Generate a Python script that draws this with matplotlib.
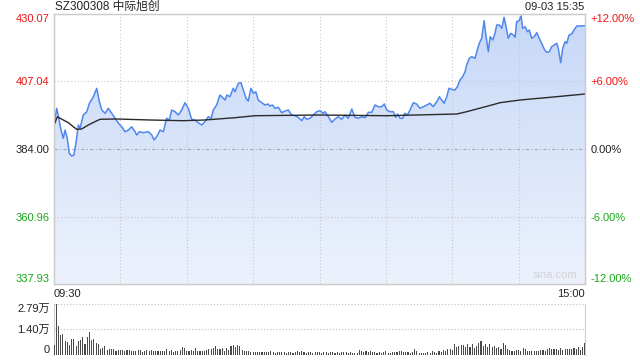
import matplotlib
matplotlib.use('Agg')
import matplotlib.pyplot as plt
import numpy as np

plt.rcParams['font.family'] = ['Liberation Sans', 'Noto Sans CJK SC', 'DejaVu Sans']

title = 'SZ300308 中际旭创'
stamp = '09-03 15:35'
prev_close = 384.00
price_ticks = [337.93, 360.96, 384.00, 407.04, 430.07]
pct_labels = ['-12.00%', '-6.00%', '0.00%', '+6.00%', '+12.00%']
vol_ticks = [0, 1.40, 2.79]
vol_labels = ['0', '1.40万', '2.79万']

# minutes after 09:30 (trading time, lunch break removed) and price
minutes = [0, 1.2, 1.9, 3.0, 4.2, 5.0, 6.0, 6.9, 8.0, 9.0, 9.9, 11.0, 11.8, 12.5, 13.2, 14.8,
           16.0, 17.8, 19.3, 20.5, 21.6, 23.1, 24.5, 26.1, 27.6, 29.1, 30.6, 32.1, 33.6, 35.1,
           36.6, 37.4, 38.6, 40.4, 42.6, 44.2, 45.2, 46.4, 47.9, 49.4, 50.9, 52.1, 53.2, 54.7,
           56.2, 57.7, 59.2, 60.7, 62.2, 63.7, 65.2, 66.8, 68.2, 69.7, 71.0, 72.0, 73.5, 75.0,
           76.5, 77.3, 78.1, 79.5, 81.0, 81.8, 83.3, 84.5, 85.6, 86.8, 87.8, 89.0, 90.1, 91.2,
           92.3, 93.9, 95.4, 96.6, 97.6, 98.7, 99.9, 101.4, 102.9, 104.4, 105.9, 107.4, 108.9,
           110.4, 112.0, 113.1, 114.2, 115.7, 117.2, 118.7, 120.2, 121.7, 122.5, 124.0, 125.5,
           127.0, 128.5, 130.0, 131.5, 133.0, 134.6, 136.0, 137.5, 139.1, 140.6, 142.1, 143.6,
           145.1, 146.6, 148.1, 149.3, 150.4, 151.9, 153.4, 154.4, 155.3, 156.4, 157.6, 158.6,
           159.7, 160.9, 162.4, 163.9, 165.4, 166.9, 168.5, 169.9, 171.4, 173.0, 174.2, 175.2,
           176.3, 177.5, 178.5, 179.8, 181.2, 182.3, 183.5, 184.7, 185.8, 186.5, 187.7, 188.8,
           190.3, 191.3, 192.2, 193.3, 194.4, 195.3, 196.3, 197.1, 198.3, 199.3, 200.1, 201.3,
           202.4, 203.4, 204.3, 205.3, 206.4, 207.6, 208.4, 209.1, 210.2, 211.1, 211.8, 212.9,
           213.9, 214.8, 215.9, 217.0, 218.2, 219.3, 220.4, 221.6, 222.7, 223.9, 224.9, 226.1,
           227.2, 227.9, 229.0, 229.9, 231.0, 231.7, 232.8, 234.0, 235.0, 236.3, 237.8, 240.0]
prices = [392.19, 397.89, 395.60, 391.06, 387.65, 390.48, 387.65, 382.53, 381.61, 381.95, 385.94,
          392.19, 391.06, 393.32, 395.60, 396.73, 399.60, 401.85, 404.71, 400.14, 397.31, 396.18,
          397.89, 396.18, 394.48, 392.77, 391.61, 389.90, 390.48, 391.61, 389.90, 388.78, 389.90,
          389.56, 389.90, 388.78, 387.07, 388.20, 390.48, 389.90, 394.48, 393.90, 397.31, 396.73,
          395.60, 397.31, 399.80, 397.89, 394.14, 393.90, 392.98, 392.19, 393.32, 395.02, 394.48,
          397.31, 399.02, 402.43, 401.30, 400.72, 402.43, 401.85, 404.71, 403.55, 406.42, 406.63,
          404.13, 401.30, 400.38, 404.71, 403.01, 403.55, 400.72, 399.80, 399.02, 399.36, 398.67,
          399.02, 397.89, 398.23, 396.39, 396.97, 397.31, 395.60, 395.36, 394.82, 393.66, 395.02,
          394.14, 394.48, 395.60, 396.73, 397.07, 396.18, 396.73, 395.02, 393.11, 394.24, 395.02,
          394.14, 395.60, 394.48, 397.65, 394.82, 394.48, 395.02, 394.68, 396.52, 396.52, 399.02,
          398.44, 398.44, 399.36, 397.31, 396.73, 396.73, 394.82, 395.94, 394.48, 394.48, 396.18,
          395.60, 397.31, 399.80, 399.36, 397.89, 398.44, 399.02, 399.60, 398.44, 400.14, 401.85,
          400.72, 399.60, 401.85, 404.71, 404.37, 404.13, 405.26, 407.55, 408.67, 410.38, 412.67,
          414.95, 415.50, 414.95, 417.78, 420.07, 421.78, 427.78, 422.32, 417.20, 422.32, 421.20,
          423.48, 426.32, 426.32, 425.19, 428.94, 425.74, 421.78, 423.48, 422.90, 422.12, 427.44,
          427.78, 429.39, 425.19, 425.74, 424.03, 424.61, 421.78, 422.32, 423.69, 421.78, 420.07,
          418.02, 417.00, 417.20, 418.91, 419.49, 420.07, 418.36, 413.45, 418.36, 420.62, 420.07,
          422.90, 423.24, 424.61, 425.98, 425.98, 426.08]

# average price line
avg_minutes = [0, 1.5, 4.2, 6.5, 8.7, 10.3, 12.5, 15.5, 18.5, 20.8, 28.3, 43.4, 58.4, 68.2,
               81.8, 90.8, 119.5, 150.4, 182.0, 186.5, 194.0, 201.6, 210.6, 224.2, 240.0]
avg_prices = [392.19, 395.00, 393.90, 392.98, 391.61, 390.72, 390.83, 392.19, 393.32, 394.14,
              394.24, 393.90, 393.66, 393.90, 394.68, 395.36, 395.60, 395.36, 395.94, 396.73,
              398.23, 399.80, 400.72, 401.64, 402.77]

# volume per minute, in 万 shares
volumes = [0.55, 2.79, 1.60, 1.10, 1.16, 0.77, 0.73, 0.55, 0.88, 0.88, 0.51, 0.79, 0.83, 0.97,
           0.62, 0.97, 1.27, 0.83, 0.90, 0.64, 0.61, 0.31, 0.37, 0.50, 0.28,
           0.31, 0.31, 0.31, 0.24, 0.28, 0.28, 0.26, 0.22, 0.28, 0.26,
           0.22, 0.20, 0.22, 0.28, 0.26, 0.17, 0.24, 0.29, 0.24, 0.28,
           0.22, 0.22, 0.22, 0.20, 0.22, 0.24, 0.31, 0.24, 0.29, 0.17,
           0.22, 0.24, 0.28, 0.42, 0.37, 0.22, 0.22, 0.26, 0.24, 0.37,
           0.20, 0.20, 0.24, 0.24, 0.28, 0.31, 0.31, 0.39, 0.48, 0.35,
           0.35, 0.37, 0.24, 0.37, 0.28, 0.51, 0.55, 0.46, 0.57, 0.50,
           0.26, 0.24, 0.22, 0.22, 0.17, 0.17, 0.17, 0.18, 0.17, 0.17,
           0.18, 0.15, 0.17, 0.20, 0.15, 0.13, 0.17, 0.17, 0.17, 0.17,
           0.13, 0.15, 0.17, 0.13, 0.17, 0.24, 0.18, 0.20, 0.17, 0.13,
           0.15, 0.17, 0.13, 0.15, 0.17, 0.15, 0.13, 0.17, 0.15, 0.13,
           0.17, 0.15, 0.13, 0.17, 0.13, 0.15, 0.17, 0.15, 0.13, 0.17,
           0.11, 0.13, 0.11, 0.26, 0.20, 0.18, 0.22, 0.18, 0.20, 0.17,
           0.18, 0.13, 0.15, 0.13, 0.17, 0.20, 0.13, 0.13, 0.15, 0.17,
           0.17, 0.20, 0.20, 0.15, 0.17, 0.15, 0.13, 0.15, 0.33, 0.20,
           0.13, 0.11, 0.13, 0.11, 0.15, 0.13, 0.24, 0.15, 0.13, 0.24,
           0.17, 0.28, 0.24, 0.31, 0.35, 0.26,
           0.61, 0.42, 0.50, 0.53, 0.55, 0.42, 0.59, 0.44, 0.61, 0.39,
           0.50, 0.64, 0.77, 0.50, 0.61, 0.42, 0.59, 0.42, 0.51, 0.39,
           0.42, 0.35, 0.66, 0.53, 0.31, 0.29, 0.24, 0.22, 0.28, 0.28,
           0.24, 0.39, 0.35, 0.24, 0.22, 0.20, 0.24, 0.24, 0.22, 0.28,
           0.28, 0.22, 0.33, 0.37, 0.35, 0.31, 0.35, 0.28, 0.37, 0.28,
           0.35, 0.35, 0.31, 0.35, 0.39, 0.31, 0.42, 0.28, 0.46, 0.68]

red = '#f01414'
green = '#18a818'
tick_colors = [green, green, '#222222', red, red]
border = '#cccccc'


def edge_align(labels):
    # outermost labels are kept inside the panel, like the original widget
    labels[0].set_verticalalignment('bottom')
    labels[-1].set_verticalalignment('top')


fig = plt.figure(figsize=(6.4, 3.6), dpi=100)
ax = fig.add_axes([0.0844, 0.2111, 0.8297, 0.75])
axv = fig.add_axes([0.0844, 0.0139, 0.8297, 0.1417])

ymin, ymax = price_ticks[0], price_ticks[-1]
ax.set_xlim(0, 240)
ax.set_ylim(ymin, ymax)

# gradient fill under the price line
grad = np.linspace(0, 1, 256).reshape(-1, 1)
img = ax.imshow(grad, extent=[0, 240, ymin, ymax], origin='lower', aspect='auto',
                cmap=matplotlib.colors.LinearSegmentedColormap.from_list('b', ['#edf2fd', '#c6d8f7']),
                zorder=1)
poly = ax.fill_between(minutes, prices, ymin, color='none', lw=0)
path = poly.get_paths()[0]
img.set_clip_path(path, transform=ax.transData)

ax.plot(minutes, prices, color='#4f87ee', lw=1.1, zorder=3)
ax.plot(avg_minutes, avg_prices, color='#2a2a2a', lw=1.0, zorder=4)

for xg in range(30, 240, 30):
    ax.axvline(xg, color='#c8c8c8', lw=0.8, ls=(0, (1, 2)), zorder=2)
for yg in [price_ticks[1], price_ticks[3]]:
    ax.axhline(yg, color='#c8c8c8', lw=0.8, ls=(0, (1, 2)), zorder=2)
ax.axhline(prev_close, color='#aaaaaa', lw=0.8, ls=(0, (3, 2, 1, 2)), zorder=2)

ax.set_yticks(price_ticks)
ax.set_yticklabels(['%.2f' % p for p in price_ticks])
for lab, c in zip(ax.get_yticklabels(), tick_colors):
    lab.set_color(c)
edge_align(ax.get_yticklabels())
ax.tick_params(axis='y', length=0, labelsize=8, pad=3)
ax.set_xticks([])

ax2 = ax.twinx()
ax2.set_ylim(ymin, ymax)
ax2.set_yticks(price_ticks)
ax2.set_yticklabels(pct_labels)
for lab, c in zip(ax2.get_yticklabels(), tick_colors):
    lab.set_color(c)
edge_align(ax2.get_yticklabels())
ax2.tick_params(axis='y', length=0, labelsize=8, pad=4)
for a in (ax, ax2):
    for s in a.spines.values():
        s.set_color(border)
        s.set_linewidth(0.9)

fig.text(0.0859, 1 - 7 / 360, title, fontsize=8.5, color='#222222', ha='left', va='center')
fig.text(0.9125, 1 - 7 / 360, stamp, fontsize=8, color='#222222', ha='right', va='center')
ax.text(0.0, -0.02, '09:30', transform=ax.transAxes, fontsize=8, color='#222222', ha='left', va='top')
ax.text(1.0, -0.02, '15:00', transform=ax.transAxes, fontsize=8, color='#222222', ha='right', va='top')
ax.text(0.985, 0.015, 'sina.com', transform=ax.transAxes, fontsize=8, color='#d2d2d2', ha='right', va='bottom')

# volume panel
vx = np.arange(len(volumes))
axv.bar(vx, volumes, width=0.5, color='#4a4a4a', zorder=3)
axv.set_xlim(0, 240)
axv.set_ylim(0, vol_ticks[-1])
axv.set_yticks(vol_ticks)
axv.set_yticklabels(vol_labels)
edge_align(axv.get_yticklabels())
axv.tick_params(axis='y', length=0, labelsize=8, pad=3, labelcolor='#222222')
axv.set_xticks([])
for yg in vol_ticks[1:]:
    axv.axhline(yg, color='#c8c8c8', lw=0.9, ls=(0, (1, 1.5)), zorder=1)
axv.spines['top'].set_visible(False)
axv.spines['bottom'].set_visible(False)
axv.spines['left'].set_color(border)
axv.spines['right'].set_color(border)

fig.savefig('out.png', dpi=100)
